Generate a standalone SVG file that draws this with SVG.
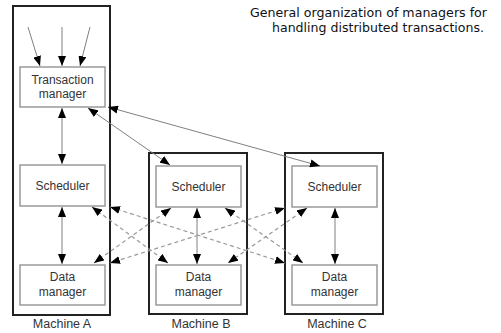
<svg xmlns="http://www.w3.org/2000/svg" width="501" height="333" viewBox="0 0 501 333">
<style>
.mach{fill:none;stroke:#222;stroke-width:2}
.box{fill:#fff;stroke:#9a9a9a;stroke-width:1.5}
.lbl{font-family:"Liberation Sans",Arial,sans-serif;font-size:12px;fill:#333;text-anchor:middle}
.mlbl{font-size:12.5px}
.title{font-family:"DejaVu Sans",sans-serif;font-size:12px;fill:#111;text-anchor:end}
.c{fill:none;stroke:#808080;stroke-width:1}
.d{fill:none;stroke:#999;stroke-width:1.2;stroke-dasharray:4 3}
</style>
<defs>
<marker id="ah" viewBox="0 0 10 8" refX="10" refY="4" markerWidth="10" markerHeight="8" markerUnits="userSpaceOnUse" orient="auto-start-reverse">
<path d="M0,0 L10,4 L0,8 z" fill="#000"/>
</marker>
</defs>
<rect width="501" height="333" fill="#fff"/>
<g id="title">
<text class="title" x="487" y="17" textLength="237" lengthAdjust="spacingAndGlyphs">General organization of managers for</text>
<text class="title" x="484" y="32" textLength="212" lengthAdjust="spacingAndGlyphs">handling distributed transactions.</text>
</g>
<g id="machineA">
<rect class="mach" x="13" y="6" width="97" height="309"/>
<text class="lbl mlbl" x="62" y="328">Machine A</text>
</g>
<g id="machineB">
<rect class="mach" x="149" y="153" width="98" height="161"/>
<text class="lbl mlbl" x="201" y="328">Machine B</text>
</g>
<g id="machineC">
<rect class="mach" x="285" y="153" width="98" height="161"/>
<text class="lbl mlbl" x="337" y="328">Machine C</text>
</g>
<g id="tmA">
<rect class="box" x="20" y="67" width="85" height="40"/>
<text class="lbl" x="62.5" y="84">Transaction</text>
<text class="lbl" x="62.5" y="98">manager</text>
</g>
<g id="schedA">
<rect class="box" x="20" y="165" width="85" height="41"/>
<text class="lbl" x="62.5" y="190">Scheduler</text>
</g>
<g id="dataA">
<rect class="box" x="20" y="265" width="85" height="40"/>
<text class="lbl" x="62.5" y="281">Data</text>
<text class="lbl" x="62.5" y="296">manager</text>
</g>
<g id="schedB">
<rect class="box" x="156" y="166" width="85" height="41"/>
<text class="lbl" x="198.5" y="191">Scheduler</text>
</g>
<g id="dataB">
<rect class="box" x="156" y="265" width="85" height="40"/>
<text class="lbl" x="198.5" y="281">Data</text>
<text class="lbl" x="198.5" y="296">manager</text>
</g>
<g id="schedC">
<rect class="box" x="292" y="166" width="85" height="41"/>
<text class="lbl" x="334.5" y="191">Scheduler</text>
</g>
<g id="dataC">
<rect class="box" x="292" y="265" width="85" height="40"/>
<text class="lbl" x="334.5" y="281">Data</text>
<text class="lbl" x="334.5" y="296">manager</text>
</g>
<g id="connectors">
<line class="c" x1="28" y1="27" x2="40" y2="66" marker-end="url(#ah)"/>
<line class="c" x1="62" y1="27" x2="62" y2="66" marker-end="url(#ah)"/>
<line class="c" x1="90" y1="27" x2="80" y2="66" marker-end="url(#ah)"/>
<line class="c" x1="62" y1="108" x2="62" y2="164" marker-start="url(#ah)" marker-end="url(#ah)"/>
<line class="c" x1="88" y1="108" x2="170" y2="165" marker-start="url(#ah)" marker-end="url(#ah)"/>
<line class="c" x1="108" y1="107" x2="320" y2="166" marker-start="url(#ah)" marker-end="url(#ah)"/>
<line class="c" x1="62" y1="207" x2="62" y2="264" marker-start="url(#ah)" marker-end="url(#ah)"/>
<line class="c" x1="197" y1="208" x2="197" y2="264" marker-start="url(#ah)" marker-end="url(#ah)"/>
<line class="c" x1="335" y1="208" x2="335" y2="264" marker-start="url(#ah)" marker-end="url(#ah)"/>
<line class="d" x1="92" y1="207" x2="168" y2="263" marker-start="url(#ah)" marker-end="url(#ah)"/>
<line class="d" x1="110" y1="207" x2="285" y2="263" marker-start="url(#ah)" marker-end="url(#ah)"/>
<line class="d" x1="171" y1="208" x2="94" y2="263" marker-start="url(#ah)" marker-end="url(#ah)"/>
<line class="d" x1="285" y1="208" x2="110" y2="263" marker-start="url(#ah)" marker-end="url(#ah)"/>
<line class="d" x1="225" y1="208" x2="303" y2="263" marker-start="url(#ah)" marker-end="url(#ah)"/>
<line class="d" x1="307" y1="208" x2="228" y2="263" marker-start="url(#ah)" marker-end="url(#ah)"/>
</g>
</svg>
